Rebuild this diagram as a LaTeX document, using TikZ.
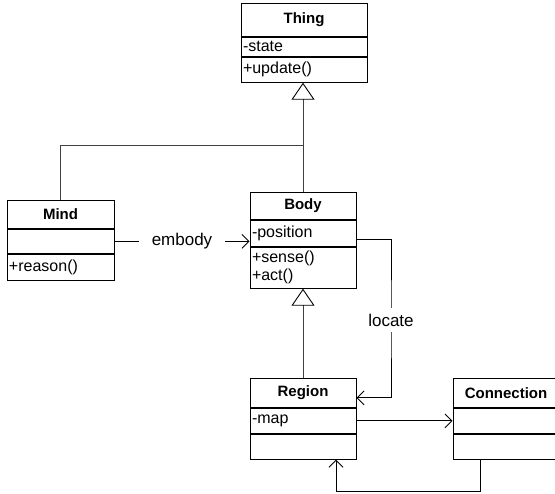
\documentclass[tikz,border=0pt]{standalone}
\usepackage{fontspec}
\setmainfont{Liberation Sans}
\usetikzlibrary{positioning,arrows.meta}
\newcommand\rowfont{\fontsize{16}{18}\selectfont}
\newcommand\headfont{\bfseries\fontsize{15}{18}\selectfont}
\newcommand\lblfont{\fontsize{17}{19}\selectfont}

\begin{document}
\begin{tikzpicture}[x=1pt,y=-1pt,line width=0.9pt,
    >={Straight Barb[length=7pt,width=14pt]},
    clshead/.style={draw, font=\headfont, minimum width=106pt, inner sep=0pt, anchor=north},
    clsrow/.style={draw, font=\rowfont, text width=102pt, align=left, inner xsep=2pt, inner ysep=0pt},
    lbl/.style={fill=white, font=\lblfont, inner xsep=13pt, inner ysep=6pt},
    gen/.style={draw=black!75},
    inherit/.style={gen, -{Triangle[open,length=17pt,width=23pt,color=black]}}]
        \useasboundingbox (0,0) rectangle (555,494);

        \coordinate (mindJoin) at (303,145);

        \node[clshead, minimum width=126pt, minimum height=33pt] (thingTitle) at (304,3) {Thing};
        \node[clsrow, text width=122pt, minimum height=19pt, below=0pt of thingTitle] (thingAttr) {-state};
        \node[clsrow, text width=122pt, minimum height=25pt, below=0pt of thingAttr] (thingOps) {+update()};

        \node[clshead, minimum width=107pt, minimum height=28pt] (mindTitle) at (60.5,200) {Mind};
        \node[clsrow, text width=103pt, minimum height=24pt, below=0pt of mindTitle] (mindAttr) {};
        \node[clsrow, text width=103pt, minimum height=26pt, below=0pt of mindAttr] (mindOps) {+reason()};

        \node[clshead, minimum height=27pt] (bodyTitle) at (303,192) {Body};
        \node[clsrow, minimum height=26pt, below=0pt of bodyTitle] (bodyAttr) {-position};
        \node[clsrow, minimum height=41pt, below=0pt of bodyAttr] (bodyOps) {+sense()\\+act()};

        \node[clshead, minimum height=29pt] (regionTitle) at (303,378) {Region};
        \node[clsrow, minimum height=25pt, below=0pt of regionTitle] (regionAttr) {-map};
        \node[clsrow, minimum height=25pt, below=0pt of regionAttr] (regionOps) {};

        \node[clshead, minimum height=29pt] (connTitle) at (506,378) {Connection};
        \node[clsrow, minimum height=25pt, below=0pt of connTitle] (connAttr) {};
        \node[clsrow, minimum height=25pt, below=0pt of connAttr] (connOps) {};

        \draw[inherit] (bodyTitle.north) -- (bodyTitle.north |- thingOps.south);
        \draw[gen] (mindTitle.north) |- (mindJoin);
        \draw[inherit] (regionTitle.north) -- (regionTitle.north |- bodyOps.south);

        \draw[->] (mindAttr.east) -- node[lbl] {embody} (bodyAttr.west |- mindAttr.east);
        \draw[->] ([yshift=-6pt]bodyAttr.east) -| (391,320) node[lbl, inner xsep=2pt] {locate}
          |- ([yshift=-5pt]regionTitle.east);
        \draw[->] (regionAttr.east) -- (connAttr.west);
        \draw[->] ([xshift=-26pt]connOps.south) -- ++(0,32) -| ([xshift=33pt]regionOps.south);
      \end{tikzpicture}
\end{document}
